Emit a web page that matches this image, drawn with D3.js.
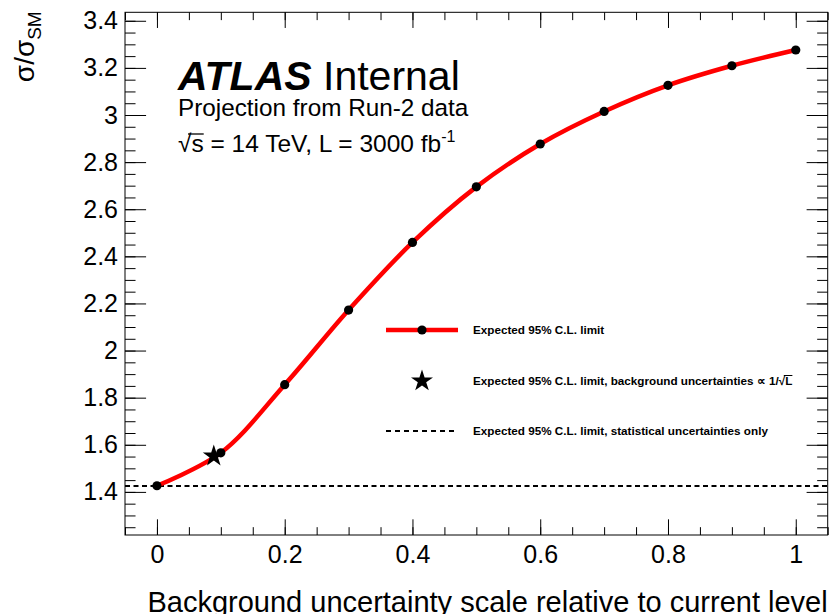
<!DOCTYPE html>
<html>
<head>
<meta charset="utf-8">
<script src="https://cdn.jsdelivr.net/npm/d3@7"></script>
<style>
  html, body { margin: 0; padding: 0; background: #fff; }
  svg { display: block; font-family: "Liberation Sans", Arial, Helvetica, sans-serif; }
</style>
</head>
<body>
<svg id="chart" width="834" height="614"></svg>
<script>
// ---- data ----
const scaleValues = [0, 0.1, 0.2, 0.3, 0.4, 0.5, 0.6, 0.7, 0.8, 0.9, 1.0];
const limitValues = [1.426, 1.566, 1.855, 2.172, 2.459, 2.695, 2.877, 3.015, 3.126, 3.209, 3.276];
const lumiScaledX = [0.089];
const lumiScaledY = [1.552];
const statOnlyLimit = [1.425];
const xTickValues = [0, 0.2, 0.4, 0.6, 0.8, 1];
const xTickLabels = ["0", "0.2", "0.4", "0.6", "0.8", "1"];
const yTickValues = [1.4, 1.6, 1.8, 2.0, 2.2, 2.4, 2.6, 2.8, 3.0, 3.2, 3.4];
const yTickLabels = ["1.4", "1.6", "1.8", "2", "2.2", "2.4", "2.6", "2.8", "3", "3.2", "3.4"];
const legendLabels = [
  "Expected 95% C.L. limit",
  "Expected 95% C.L. limit, background uncertainties \u221D 1/\u221AL",
  "Expected 95% C.L. limit, statistical uncertainties only"
];

// ---- layout ----
const frame = { left: 125, top: 12.3, right: 827.7, bottom: 535 };
const svg = d3.select("#chart");
const x = d3.scaleLinear().domain([-0.05, 1.05]).range([frame.left, frame.right]);
const y = d3.scaleLinear().domain([1.217, 3.436]).range([frame.bottom, frame.top]);
const W = frame.right - frame.left, H = frame.bottom - frame.top;
const xMaj = 0.03 * H, xMin = xMaj / 2, yMaj = 0.03 * W, yMin = yMaj / 2;
const xMinor = d3.range(-0.05, 1.0501, 0.05).map(v => +v.toFixed(2)).filter(v => v >= -0.05 && v <= 1.05);
const yMinor = d3.range(1.25, 3.4301, 0.05).map(v => +v.toFixed(2));

// frame
svg.append("rect").attr("x", frame.left).attr("y", frame.top)
  .attr("width", W).attr("height", H)
  .attr("fill", "none").attr("stroke", "#000").attr("stroke-width", 1);

function styleAxis(g, fontSize) {
  g.select(".domain").remove();
  g.selectAll(".tick line").attr("stroke", "#000").attr("stroke-width", 1);
  g.selectAll(".tick text").attr("fill", "#000").style("font-size", fontSize + "px");
}
const labFmtX = (d, i) => xTickLabels[i];
const labFmtY = (d, i) => yTickLabels[i];

// bottom
svg.append("g").attr("transform", `translate(0,${frame.bottom})`)
  .call(d3.axisBottom(x).tickValues(xTickValues).tickFormat(labFmtX).tickSize(-xMaj).tickPadding(10))
  .call(g => styleAxis(g, 25));
svg.append("g").attr("transform", `translate(0,${frame.bottom})`)
  .call(d3.axisBottom(x).tickValues(xMinor).tickFormat("").tickSize(-xMin))
  .call(g => styleAxis(g, 25));
// top
svg.append("g").attr("transform", `translate(0,${frame.top})`)
  .call(d3.axisTop(x).tickValues(xTickValues).tickFormat("").tickSize(-xMaj))
  .call(g => styleAxis(g, 25));
svg.append("g").attr("transform", `translate(0,${frame.top})`)
  .call(d3.axisTop(x).tickValues(xMinor).tickFormat("").tickSize(-xMin))
  .call(g => styleAxis(g, 25));
// left
svg.append("g").attr("transform", `translate(${frame.left},0)`)
  .call(d3.axisLeft(y).tickValues(yTickValues).tickFormat(labFmtY).tickSize(-yMaj).tickPadding(7))
  .call(g => styleAxis(g, 25));
svg.append("g").attr("transform", `translate(${frame.left},0)`)
  .call(d3.axisLeft(y).tickValues(yMinor).tickFormat("").tickSize(-yMin))
  .call(g => styleAxis(g, 25));
// right
svg.append("g").attr("transform", `translate(${frame.right},0)`)
  .call(d3.axisRight(y).tickValues(yTickValues).tickFormat("").tickSize(-yMaj))
  .call(g => styleAxis(g, 25));
svg.append("g").attr("transform", `translate(${frame.right},0)`)
  .call(d3.axisRight(y).tickValues(yMinor).tickFormat("").tickSize(-yMin))
  .call(g => styleAxis(g, 25));

// axis titles
const yt = svg.append("text").attr("transform", `translate(34,${frame.top - 1}) rotate(-90)`)
  .attr("text-anchor", "end").style("font-size", "28px").attr("fill", "#000");
yt.append("tspan").text("\u03C3/\u03C3");
yt.append("tspan").attr("dy", 7).style("font-size", "19px").text("SM");

svg.append("text").attr("x", frame.right).attr("y", 612).attr("text-anchor", "end")
  .style("font-size", "29px").attr("fill", "#000")
  .text("Background uncertainty scale relative to current level");

// stat-only dashed line
svg.append("line")
  .attr("x1", frame.left).attr("x2", frame.right)
  .attr("y1", y(statOnlyLimit[0])).attr("y2", y(statOnlyLimit[0]))
  .attr("stroke", "#000").attr("stroke-width", 2).attr("stroke-dasharray", "5,3.5");

// limit curve
const pts = scaleValues.map((v, i) => [v, limitValues[i]]);
svg.append("path").datum(pts)
  .attr("d", d3.line().x(d => x(d[0])).y(d => y(d[1])).curve(d3.curveCatmullRom.alpha(0.5)))
  .attr("fill", "none").attr("stroke", "#ff0000").attr("stroke-width", 4.5);
svg.append("g").selectAll("circle").data(pts).join("circle")
  .attr("cx", d => x(d[0])).attr("cy", d => y(d[1])).attr("r", 4.6).attr("fill", "#000");

// star
const star = d3.symbol().type(d3.symbolStar).size(150);
svg.append("g").selectAll("path").data(lumiScaledX.map((v, i) => [v, lumiScaledY[i]])).join("path")
  .attr("d", star).attr("transform", d => `translate(${x(d[0])},${y(d[1])})`).attr("fill", "#000");

// ATLAS label
const t1 = svg.append("text").attr("x", 178).attr("y", 90).attr("fill", "#000").style("font-size", "41px");
t1.append("tspan").style("font-weight", "bold").style("font-style", "italic").text("ATLAS");
t1.append("tspan").text(" Internal");
svg.append("text").attr("x", 178).attr("y", 116).attr("fill", "#000").style("font-size", "24.3px")
  .text("Projection from Run-2 data");
const t3 = svg.append("text").attr("x", 178).attr("y", 152).attr("fill", "#000").style("font-size", "24.5px");
t3.append("tspan").text("\u221As = 14 TeV, L = 3000 fb");
t3.append("tspan").attr("dy", -10).style("font-size", "16px").text("-1");
// overline over "s" of sqrt
(function () {
  const node = t3.select("tspan").node();
  const s1 = node.getEndPositionOfChar(1);
  const r0 = node.getStartPositionOfChar(0);
  svg.append("line").attr("x1", r0.x + 10).attr("x2", s1.x).attr("y1", 152 - 18).attr("y2", 152 - 18)
    .attr("stroke", "#000").attr("stroke-width", 1.3);
})();

// legend
const legX0 = 386, legX1 = 458, legText = 473;
const legY = [330, 381, 431];
const leg = svg.append("g");
leg.append("line").attr("x1", legX0).attr("x2", legX1).attr("y1", legY[0]).attr("y2", legY[0])
  .attr("stroke", "#ff0000").attr("stroke-width", 4.5);
leg.append("circle").attr("cx", (legX0 + legX1) / 2).attr("cy", legY[0]).attr("r", 4.6).attr("fill", "#000");
leg.append("path").attr("d", star).attr("transform", `translate(${(legX0 + legX1) / 2},${legY[1]})`).attr("fill", "#000");
leg.append("line").attr("x1", legX0).attr("x2", legX1).attr("y1", legY[2]).attr("y2", legY[2])
  .attr("stroke", "#000").attr("stroke-width", 2).attr("stroke-dasharray", "5,4");
const legTexts = leg.selectAll("text.leg").data(legendLabels).join("text").attr("class", "leg")
  .attr("x", legText).attr("y", (d, i) => legY[i] + 4)
  .style("font-size", "11.7px").style("font-weight", "bold").attr("fill", "#000")
  .text(d => d);
// overline over L in sqrt
(function () {
  const node = legTexts.nodes()[1];
  const n = legendLabels[1].length;
  const e = node.getEndPositionOfChar(n - 1);
  const s = node.getStartPositionOfChar(n - 2);
  leg.append("line").attr("x1", s.x + 5).attr("x2", e.x).attr("y1", legY[1] - 5.5).attr("y2", legY[1] - 5.5)
    .attr("stroke", "#000").attr("stroke-width", 1);
})();
</script>
</body>
</html>
